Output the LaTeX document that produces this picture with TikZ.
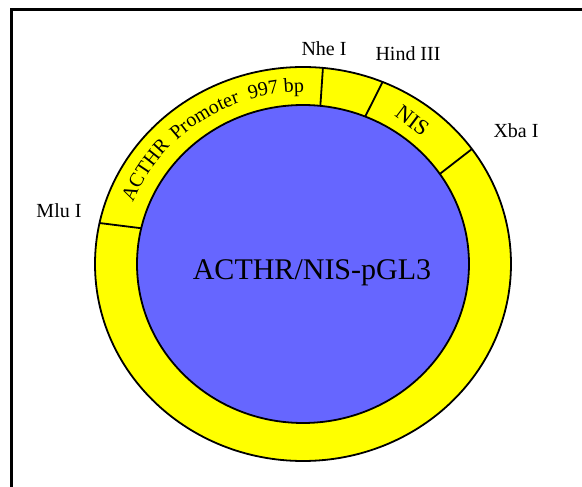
\documentclass[tikz,border=0pt]{standalone}
\usepackage{fontspec}
\setmainfont{Liberation Serif}
\usetikzlibrary{decorations.text}
\definecolor{ringc}{HTML}{FFFF00}
\definecolor{corec}{HTML}{6666FF}
\newcommand{\ringfont}{\fontsize{20}{24}\selectfont}
\tikzset{
  ring/.style={draw=black, line width=1.8pt, fill=ringc},
  core/.style={draw=black, line width=1.8pt, fill=corec},
  cut/.style={black, line width=1.8pt},
  site/.style={font=\ringfont, anchor=base, inner sep=0pt},
  frameline/.style={draw=black, line width=3pt},
}
% text laid on the ring, from angle #1 to #2
\newcommand{\RingText}[3]{%
  \path[decorate, decoration={text along path, text={|\ringfont|#3}}]
    (#1:182 and 172) arc[start angle=#1, end angle=#2, x radius=182, y radius=172];}

\begin{document}
\begin{tikzpicture}[x=1pt, y=1pt]
  \useasboundingbox (-303,-223) rectangle (279,264);
  \begin{scope}
    \clip (-303,-223) rectangle (279,264);
    \draw[frameline] (-291,-260) rectangle (300,254);
  \end{scope}
  \draw[ring] (0,0) ellipse [x radius=208, y radius=197];
  \draw[core] (0,0) ellipse [x radius=166, y radius=159];
  \foreach \a/\b in {168/167, 84.5/84, 67.5/68, 35.7/34.5}
    \draw[cut] (\a:208 and 197) -- (\b:166 and 159);
  \RingText{159}{128}{ACTHR}
  \RingText{134}{100}{Promoter}
  \RingText{107}{78}{997 bp}
  \node[font=\fontsize{22}{26}\selectfont, inner sep=0pt, rotate=-37] (nis) at (54:186 and 177) {NIS};
  \node[site] (mlu) at (-244,46) {Mlu I};
  \node[site] (nhe) at (21,208) {Nhe I};
  \node[site] (hind) at (105,203) {Hind III};
  \node[site] (xba) at (213,126) {Xba I};
  \node[font=\fontsize{30}{36}\selectfont, anchor=base, inner sep=0pt] (plasmid) at (9,-16) {ACTHR/NIS-pGL3};
\end{tikzpicture}
\end{document}
